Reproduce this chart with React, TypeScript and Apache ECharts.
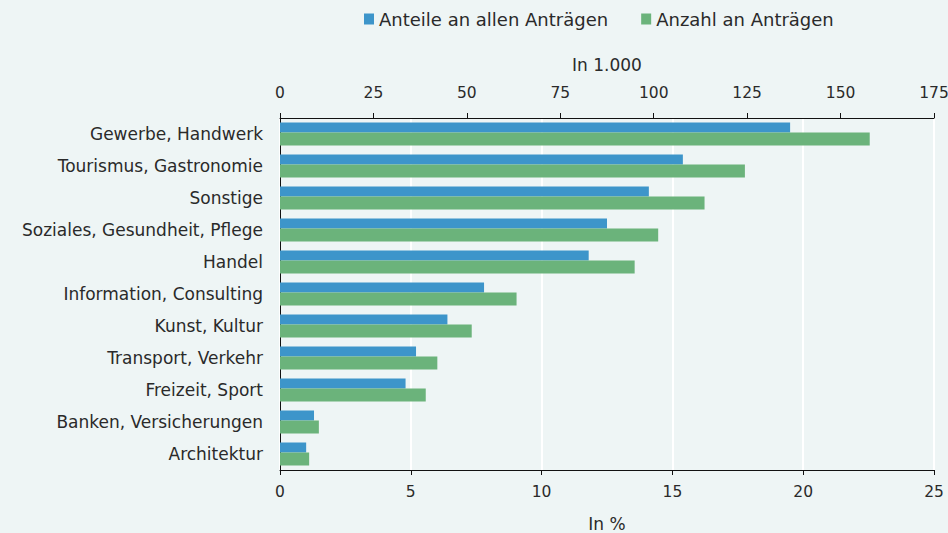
import React, { useEffect, useRef } from "react";
import * as echarts from "echarts";

const categories = [
  "Gewerbe, Handwerk",
  "Tourismus, Gastronomie",
  "Sonstige",
  "Soziales, Gesundheit, Pflege",
  "Handel",
  "Information, Consulting",
  "Kunst, Kultur",
  "Transport, Verkehr",
  "Freizeit, Sport",
  "Banken, Versicherungen",
  "Architektur",
];
const anteileProzent = [19.5, 15.4, 14.1, 12.5, 11.8, 7.8, 6.4, 5.2, 4.8, 1.3, 1.0];
const anzahlTausend = [157.8, 124.4, 113.6, 101.2, 94.9, 63.3, 51.3, 42.1, 39.0, 10.4, 7.8];
const seriesNames = ["Anteile an allen Anträgen", "Anzahl an Anträgen"];

const FONT = "DejaVu Sans";
const TEXT = "#2a2a2a";
const TICK_FONT = 15.5;

export default function App() {
  const ref = useRef<HTMLDivElement>(null);
  useEffect(() => {
    if (!ref.current) return;
    const chart = echarts.init(ref.current, undefined, { renderer: "svg" });
    chart.setOption({
      animation: false,
      backgroundColor: "#eef5f5",
      textStyle: { fontFamily: FONT, color: TEXT },
      legend: {
        top: 10,
        left: 364,
        padding: 0,
        itemWidth: 10,
        itemHeight: 11,
        itemGap: 33,
        icon: "rect",
        textStyle: { fontSize: 18, color: TEXT, fontFamily: FONT },
        data: seriesNames,
      },
      grid: {
        left: 280,
        right: 14,
        top: 118,
        bottom: 63,
        containLabel: false,
        outerBoundsMode: "none",
      },
      yAxis: {
        type: "category",
        data: categories,
        inverse: true,
        axisLine: { show: true, lineStyle: { color: "#111", width: 1 } },
        axisTick: { show: false },
        axisLabel: { fontSize: 17, color: TEXT, margin: 17, fontFamily: FONT },
      },
      xAxis: [
        {
          type: "value",
          position: "bottom",
          min: 0,
          max: 25,
          interval: 5,
          name: "In %",
          nameLocation: "middle",
          nameGap: 45,
          nameTextStyle: { fontSize: 17, color: TEXT, fontFamily: FONT },
          axisLine: { show: true, lineStyle: { color: "#111" } },
          axisTick: { show: true, length: 5, lineStyle: { color: "#111" } },
          axisLabel: { fontSize: TICK_FONT, color: TEXT, margin: 14, fontFamily: FONT },
          splitLine: { show: true, lineStyle: { color: "#ffffff", width: 2 } },
        },
        {
          type: "value",
          position: "top",
          min: 0,
          max: 175,
          interval: 25,
          name: "In 1.000",
          nameLocation: "middle",
          nameGap: 45,
          nameTextStyle: { fontSize: 17, color: TEXT, fontFamily: FONT },
          axisLine: { show: true, lineStyle: { color: "#111" } },
          axisTick: { show: true, length: 5, lineStyle: { color: "#111" } },
          axisLabel: { fontSize: TICK_FONT, color: TEXT, margin: 17, fontFamily: FONT },
          splitLine: { show: false },
        },
      ],
      series: [
        {
          name: seriesNames[0],
          type: "bar",
          xAxisIndex: 0,
          data: anteileProzent,
          barWidth: 10,
          barGap: "0%",
          itemStyle: { color: "#3d95ca" },
        },
        {
          name: seriesNames[1],
          type: "bar",
          xAxisIndex: 1,
          data: anzahlTausend,
          barWidth: 13,
          barGap: "0%",
          itemStyle: { color: "#6bb37b" },
        },
      ],
    });
    return () => chart.dispose();
  }, []);
  return (
    <div
      ref={ref}
      style={{ position: "fixed", left: 0, top: 0, width: 948, height: 533 }}
    />
  );
}
